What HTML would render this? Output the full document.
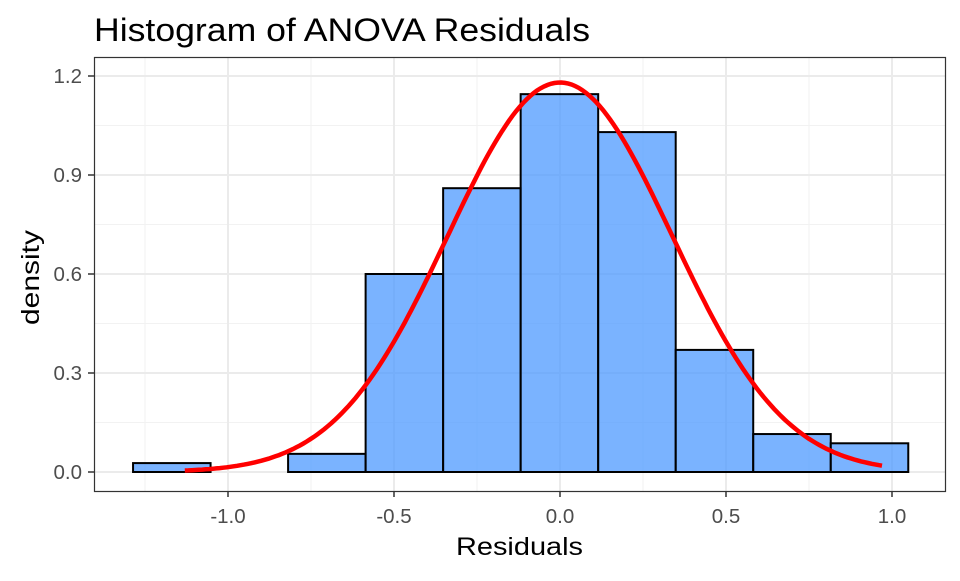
<!DOCTYPE html>
<html><head><meta charset="utf-8"><style>
body{margin:0;background:#fff;}
svg text{font-family:"Liberation Sans",Arial,sans-serif;}
</style></head><body>
<svg id="chart" width="960" height="576" xmlns="http://www.w3.org/2000/svg">
<text x="94" y="41" font-size="32" textLength="496" lengthAdjust="spacingAndGlyphs" fill="#000">Histogram of ANOVA Residuals</text>
<g id="grid"></g>
<g id="bars"></g>
<path id="curve" fill="none" stroke="#ff0000" stroke-width="4.5"></path>
<rect x="94.5" y="57.5" width="851" height="434" fill="none" stroke="#333" stroke-width="1.2"></rect>
<g id="axes"></g>
<text x="456" y="555" font-size="25" textLength="127" lengthAdjust="spacingAndGlyphs">Residuals</text>
<text transform="translate(39,325) rotate(-90)" font-size="25" textLength="95" lengthAdjust="spacingAndGlyphs">density</text>
</svg>
<script>
const binStart = -1.286;
const binWidth = 0.2335;
const densities = [0.027, 0, 0.055, 0.60, 0.86, 1.145, 1.03, 0.37, 0.115, 0.087];
const xTicks = [-1.0, -0.5, 0.0, 0.5, 1.0];
const xTickLabels = ["-1.0", "-0.5", "0.0", "0.5", "1.0"];
const yTicks = [0, 0.3, 0.6, 0.9, 1.2];
const yTickLabels = ["0.0", "0.3", "0.6", "0.9", "1.2"];
const curveMean = 0, curveSd = 0.338, curveMin = -1.13, curveMax = 0.97;

const X = v => 560 + v * 332;
const Y = v => 472 - v * 330;
const NS = "http://www.w3.org/2000/svg";
function mk(tag, attrs, parent){const e=document.createElementNS(NS,tag);for(const k in attrs)e.setAttribute(k,attrs[k]);parent.appendChild(e);return e;}
const grid=document.getElementById('grid'), bars=document.getElementById('bars'), axes=document.getElementById('axes');
mk('rect',{x:94.5,y:57.5,width:851,height:434,fill:'#fff'},grid);
for(let i=0;i<xTicks.length-1;i++){const m=(xTicks[i]+xTicks[i+1])/2;const l=mk('line',{x1:X(m),x2:X(m),y1:57,y2:491,stroke:'#f2f2f2','stroke-width':1},grid);

}
[-1.25,1.25].forEach(m=>{if(X(m)>94&&X(m)<945){mk('line',{x1:X(m),x2:X(m),y1:57,y2:491,stroke:'#f2f2f2','stroke-width':1},grid);}});
for(let i=0;i<yTicks.length-1;i++){const m=(yTicks[i]+yTicks[i+1])/2;const l=mk('line',{x1:94,x2:945,y1:Y(m),y2:Y(m),stroke:'#f2f2f2','stroke-width':1},grid);

}
xTicks.forEach((t,i)=>{const l=mk('line',{x1:X(t),x2:X(t),y1:57,y2:491,stroke:'#ebebeb','stroke-width':2},grid);


mk('line',{x1:X(t),x2:X(t),y1:491,y2:497,stroke:'#333','stroke-width':1.5},axes);
const tx=mk('text',{x:X(t),y:523,'font-size':20.5,'text-anchor':'middle',fill:'#4d4d4d'},axes);tx.textContent=xTickLabels[i];

});
yTicks.forEach((t,i)=>{const l=mk('line',{x1:94,x2:945,y1:Y(t),y2:Y(t),stroke:'#ebebeb','stroke-width':2},grid);


mk('line',{x1:88,x2:94,y1:Y(t),y2:Y(t),stroke:'#333','stroke-width':1.5},axes);
const tx=mk('text',{x:82,y:Y(t)+7,'font-size':20.5,'text-anchor':'end',fill:'#4d4d4d'},axes);tx.textContent=yTickLabels[i];

});
densities.forEach((d,i)=>{const x0=binStart+i*binWidth;const r=mk('rect',{x:X(x0),y:Y(d),width:X(x0+binWidth)-X(x0),height:Y(0)-Y(d),fill:'rgba(77,154,255,0.75)',stroke:'#000','stroke-width':2},bars);

});
let p='';for(let i=0;i<=200;i++){const x=curveMin+(curveMax-curveMin)*i/200;const y=Math.exp(-0.5*((x-curveMean)/curveSd)**2)/(curveSd*Math.sqrt(2*Math.PI));p+=(i?'L':'M')+X(x).toFixed(1)+','+Y(y).toFixed(1);}
document.getElementById('curve').setAttribute('d',p);
</script>
</body></html>
